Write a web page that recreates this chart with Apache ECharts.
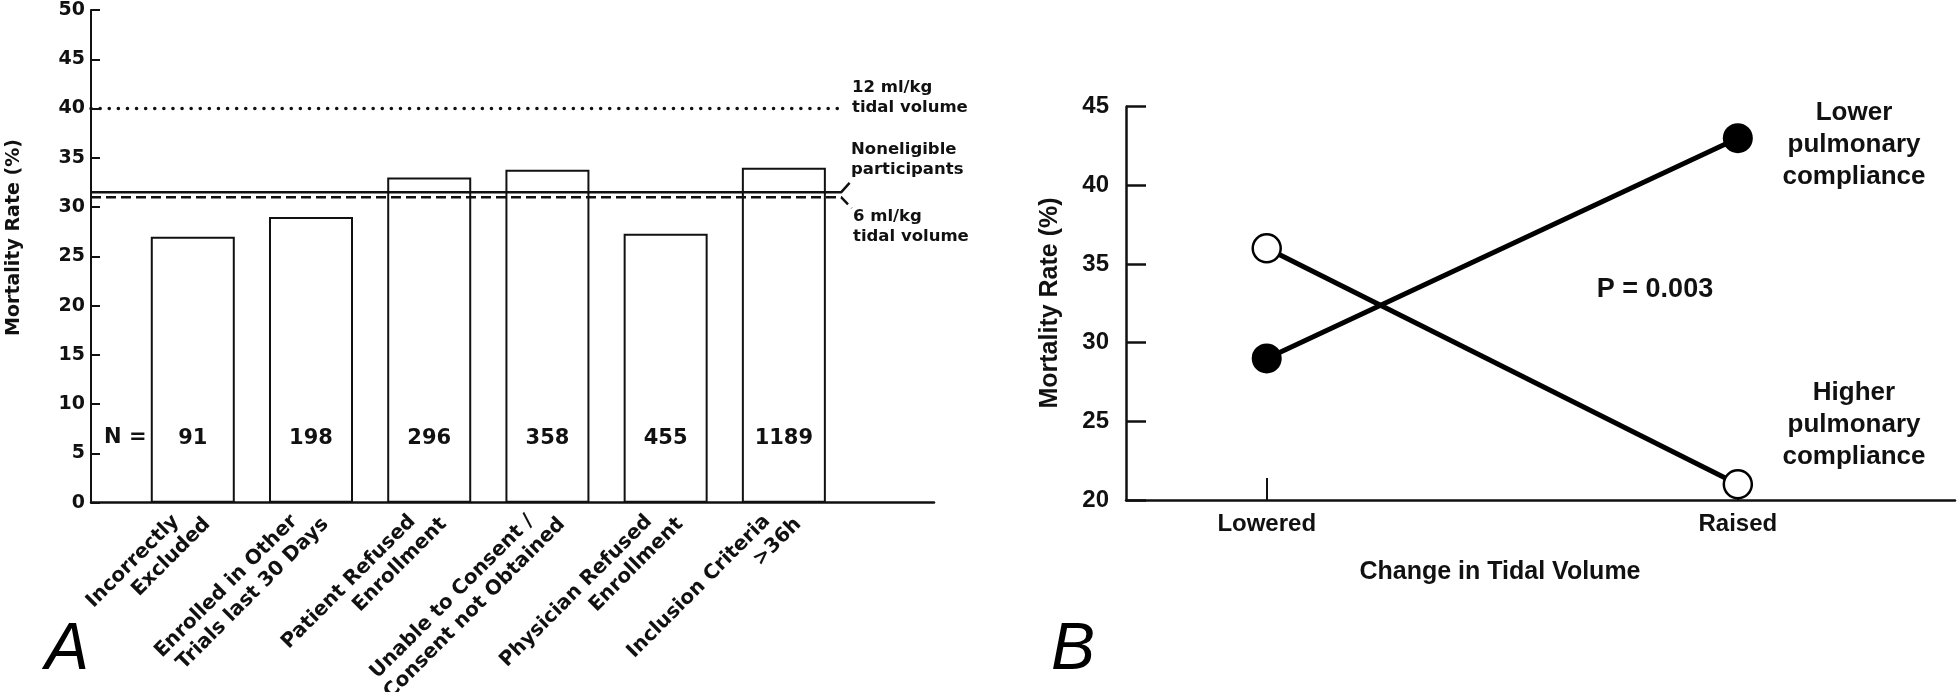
<!DOCTYPE html>
<html><head><meta charset="utf-8">
<script src="https://cdn.jsdelivr.net/npm/echarts@6/dist/echarts.min.js"></script>
<style>html,body{margin:0;padding:0;background:#fff}#c{width:1960px;height:692px}</style>
</head><body><div id="c"></div>
<script>
// ---------- Panel A data ----------
const categoriesA = ['Incorrectly\nExcluded', 'Enrolled in Other\nTrials last 30 Days', 'Patient Refused\nEnrollment', 'Unable to Consent /\nConsent not Obtained', 'Physician Refused\nEnrollment', 'Inclusion Criteria\n>36h'];
const mortalityA = [27, 29, 33, 33.8, 27.3, 34];
const countsA = [91, 198, 296, 358, 455, 1189];
const yTicksA = ['0','5','10','15','20','25','30','35','40','45','50'];
const refLabels = ['12 ml/kg\ntidal volume', 'Noneligible\nparticipants', '6 ml/kg\ntidal volume'];
const refValues = [40, 31.5, 31];

// ---------- Panel B data ----------
const categoriesB = ['Lowered', 'Raised'];
const lowerCompliance = [29, 43];   // filled circles
const higherCompliance = [36, 21];  // open circles
const yTicksB = ['20','25','30','35','40','45'];

const FA = 'DejaVu Sans';
const FB = 'Liberation Sans';
const K = '#111';

const xMinA = 0.139, xMaxA = 7.27, refEnd = 6.484;
const labelShiftA = 0.05; // small visual offset of rotated labels
const posA = categoriesA.map((c, i) => i + 1);

const chart = echarts.init(document.getElementById('c'), null, {renderer: 'canvas'});

const option = {
  backgroundColor: '#fff',
  animation: false,
  grid: [
    {left: 91, right: 1960 - 934, top: 10, bottom: 692 - 502.7, containLabel: false, outerBoundsMode: 'none'},
    {left: 1126, right: 5, top: 106.7, bottom: 192, containLabel: false, outerBoundsMode: 'none'}
  ],
  xAxis: [
    {
      gridIndex: 0, type: 'value', min: xMinA, max: xMaxA,
      axisLine: {show: true, onZero: false, lineStyle: {color: K, width: 2.5}},
      axisTick: {show: false},
      splitLine: {show: false},
      axisLabel: {
        customValues: posA.map(p => p + labelShiftA), rotate: 45, margin: 10,
        fontFamily: FA, fontWeight: 'bold', fontSize: 20, color: K, lineHeight: 24,
        formatter: v => {
          const parts = categoriesA[Math.round(v) - 1].split('\n');
          return '{a|' + parts[0] + '}\n{b|' + parts[1] + '}';
        },
        rich: {
          a: {fontFamily: FA, fontWeight: 'bold', fontSize: 20, color: K, lineHeight: 24, padding: [0, 20, 0, 0]},
          b: {fontFamily: FA, fontWeight: 'bold', fontSize: 20, color: K, lineHeight: 24}
        }
      }
    },
    {
      gridIndex: 1, type: 'value', min: 0.7013, max: 2.461,
      axisLine: {show: true, onZero: false, lineStyle: {color: K, width: 2.5}},
      axisTick: {show: true, customValues: [1, 2], inside: true, length: 22, lineStyle: {color: K, width: 2}},
      splitLine: {show: false},
      axisLabel: {
        customValues: [1, 2], margin: 12,
        fontFamily: FB, fontWeight: 'bold', fontSize: 24, color: K,
        formatter: v => categoriesB[Math.round(v) - 1]
      }
    }
  ],
  yAxis: [
    {
      gridIndex: 0, type: 'value', min: 0, max: 50, interval: 5,
      axisLine: {show: true, onZero: false, lineStyle: {color: K, width: 2}},
      axisTick: {show: true, inside: true, length: 9, lineStyle: {color: K, width: 2}},
      splitLine: {show: false},
      axisLabel: {margin: 6, fontFamily: FA, fontWeight: 'bold', fontSize: 19, color: K,
        formatter: v => yTicksA[Math.round(v / 5)]}
    },
    {
      gridIndex: 1, type: 'value', min: 20, max: 45, interval: 5,
      axisLine: {show: true, onZero: false, lineStyle: {color: K, width: 2.5}},
      axisTick: {show: true, inside: true, length: 20, lineStyle: {color: K, width: 2.5}},
      splitLine: {show: false},
      axisLabel: {margin: 17, fontFamily: FB, fontWeight: 'bold', fontSize: 24, color: K,
        formatter: v => yTicksB[Math.round((v - 20) / 5)]}
    }
  ],
  series: [
    {
      type: 'bar', xAxisIndex: 0, yAxisIndex: 0, barWidth: 84,
      data: mortalityA.map((v, i) => [posA[i], v]),
      itemStyle: {color: '#fff', borderColor: K, borderWidth: 2},
      label: {show: true, position: 'insideBottom', distance: 54,
        fontFamily: FA, fontWeight: 'bold', fontSize: 21, color: K,
        formatter: p => String(countsA[p.dataIndex])},
      z: 2
    },
    {
      type: 'line', xAxisIndex: 0, yAxisIndex: 0, symbol: 'none', silent: true,
      data: [[xMinA, refValues[0]], [refEnd, refValues[0]]],
      lineStyle: {color: K, width: 3.5, type: [0.1, 9], cap: 'round'}, z: 3
    },
    {
      type: 'line', xAxisIndex: 0, yAxisIndex: 0, symbol: 'none', silent: true,
      data: [[xMinA, refValues[1]], [refEnd, refValues[1]], [refEnd + 0.072, refValues[1] + 0.95]],
      lineStyle: {color: K, width: 2.5}, z: 3
    },
    {
      type: 'line', xAxisIndex: 0, yAxisIndex: 0, symbol: 'none', silent: true,
      data: [[xMinA, refValues[2]], [refEnd, refValues[2]], [refEnd + 0.09, refValues[2] - 1.1]],
      lineStyle: {color: K, width: 2.5, type: [10, 5]}, z: 3
    },
    {
      type: 'line', xAxisIndex: 1, yAxisIndex: 1, name: 'Lower pulmonary compliance',
      data: lowerCompliance.map((v, i) => [i + 1, v]),
      symbol: 'circle', symbolSize: 30,
      itemStyle: {color: '#000', borderColor: '#000', borderWidth: 0},
      lineStyle: {color: '#000', width: 5}, z: 4
    },
    {
      type: 'line', xAxisIndex: 1, yAxisIndex: 1, name: 'Higher pulmonary compliance',
      data: higherCompliance.map((v, i) => [i + 1, v]),
      symbol: 'circle', symbolSize: 28,
      itemStyle: {color: '#fff', borderColor: '#000', borderWidth: 2.5},
      lineStyle: {color: '#000', width: 5}, z: 4
    }
  ],
  graphic: [
    {type: 'text', x: 14, y: 237.5, rotation: Math.PI / 2,
      style: {text: 'Mortality Rate (%)', font: 'bold 19px "DejaVu Sans"', fill: K, align: 'center', verticalAlign: 'middle'}},
    {type: 'text', x: 104, y: 438,
      style: {text: 'N =', font: 'bold 21px "DejaVu Sans"', fill: K, align: 'left', verticalAlign: 'middle'}},
    {type: 'text', x: 852, y: 98,
      style: {text: refLabels[0], font: 'bold 16.5px "DejaVu Sans"', lineHeight: 20, fill: K, align: 'left', verticalAlign: 'middle'}},
    {type: 'text', x: 851, y: 160,
      style: {text: refLabels[1], font: 'bold 16.5px "DejaVu Sans"', lineHeight: 20, fill: K, align: 'left', verticalAlign: 'middle'}},
    {type: 'text', x: 853, y: 227,
      style: {text: refLabels[2], font: 'bold 16.5px "DejaVu Sans"', lineHeight: 20, fill: K, align: 'left', verticalAlign: 'middle'}},
    {type: 'text', x: 45, y: 651,
      style: {text: 'A', font: 'italic 66px "Liberation Sans"', fill: '#000', align: 'left', verticalAlign: 'middle'}},
    {type: 'text', x: 1050, y: 303, rotation: Math.PI / 2,
      style: {text: 'Mortality Rate (%)', font: 'bold 25px "Liberation Sans"', fill: K, align: 'center', verticalAlign: 'middle'}},
    {type: 'text', x: 1500, y: 572,
      style: {text: 'Change in Tidal Volume', font: 'bold 25px "Liberation Sans"', fill: K, align: 'center', verticalAlign: 'middle'}},
    {type: 'text', x: 1655, y: 290,
      style: {text: 'P = 0.003', font: 'bold 27px "Liberation Sans"', fill: K, align: 'center', verticalAlign: 'middle'}},
    {type: 'text', x: 1854, y: 145,
      style: {text: 'Lower\npulmonary\ncompliance', font: 'bold 26px "Liberation Sans"', lineHeight: 32, fill: K, align: 'center', verticalAlign: 'middle'}},
    {type: 'text', x: 1854, y: 424.5,
      style: {text: 'Higher\npulmonary\ncompliance', font: 'bold 26px "Liberation Sans"', lineHeight: 32, fill: K, align: 'center', verticalAlign: 'middle'}},
    {type: 'text', x: 1051, y: 651,
      style: {text: 'B', font: 'italic 66px "Liberation Sans"', fill: '#000', align: 'left', verticalAlign: 'middle'}}
  ]
};
chart.setOption(option);
</script>
</body></html>
